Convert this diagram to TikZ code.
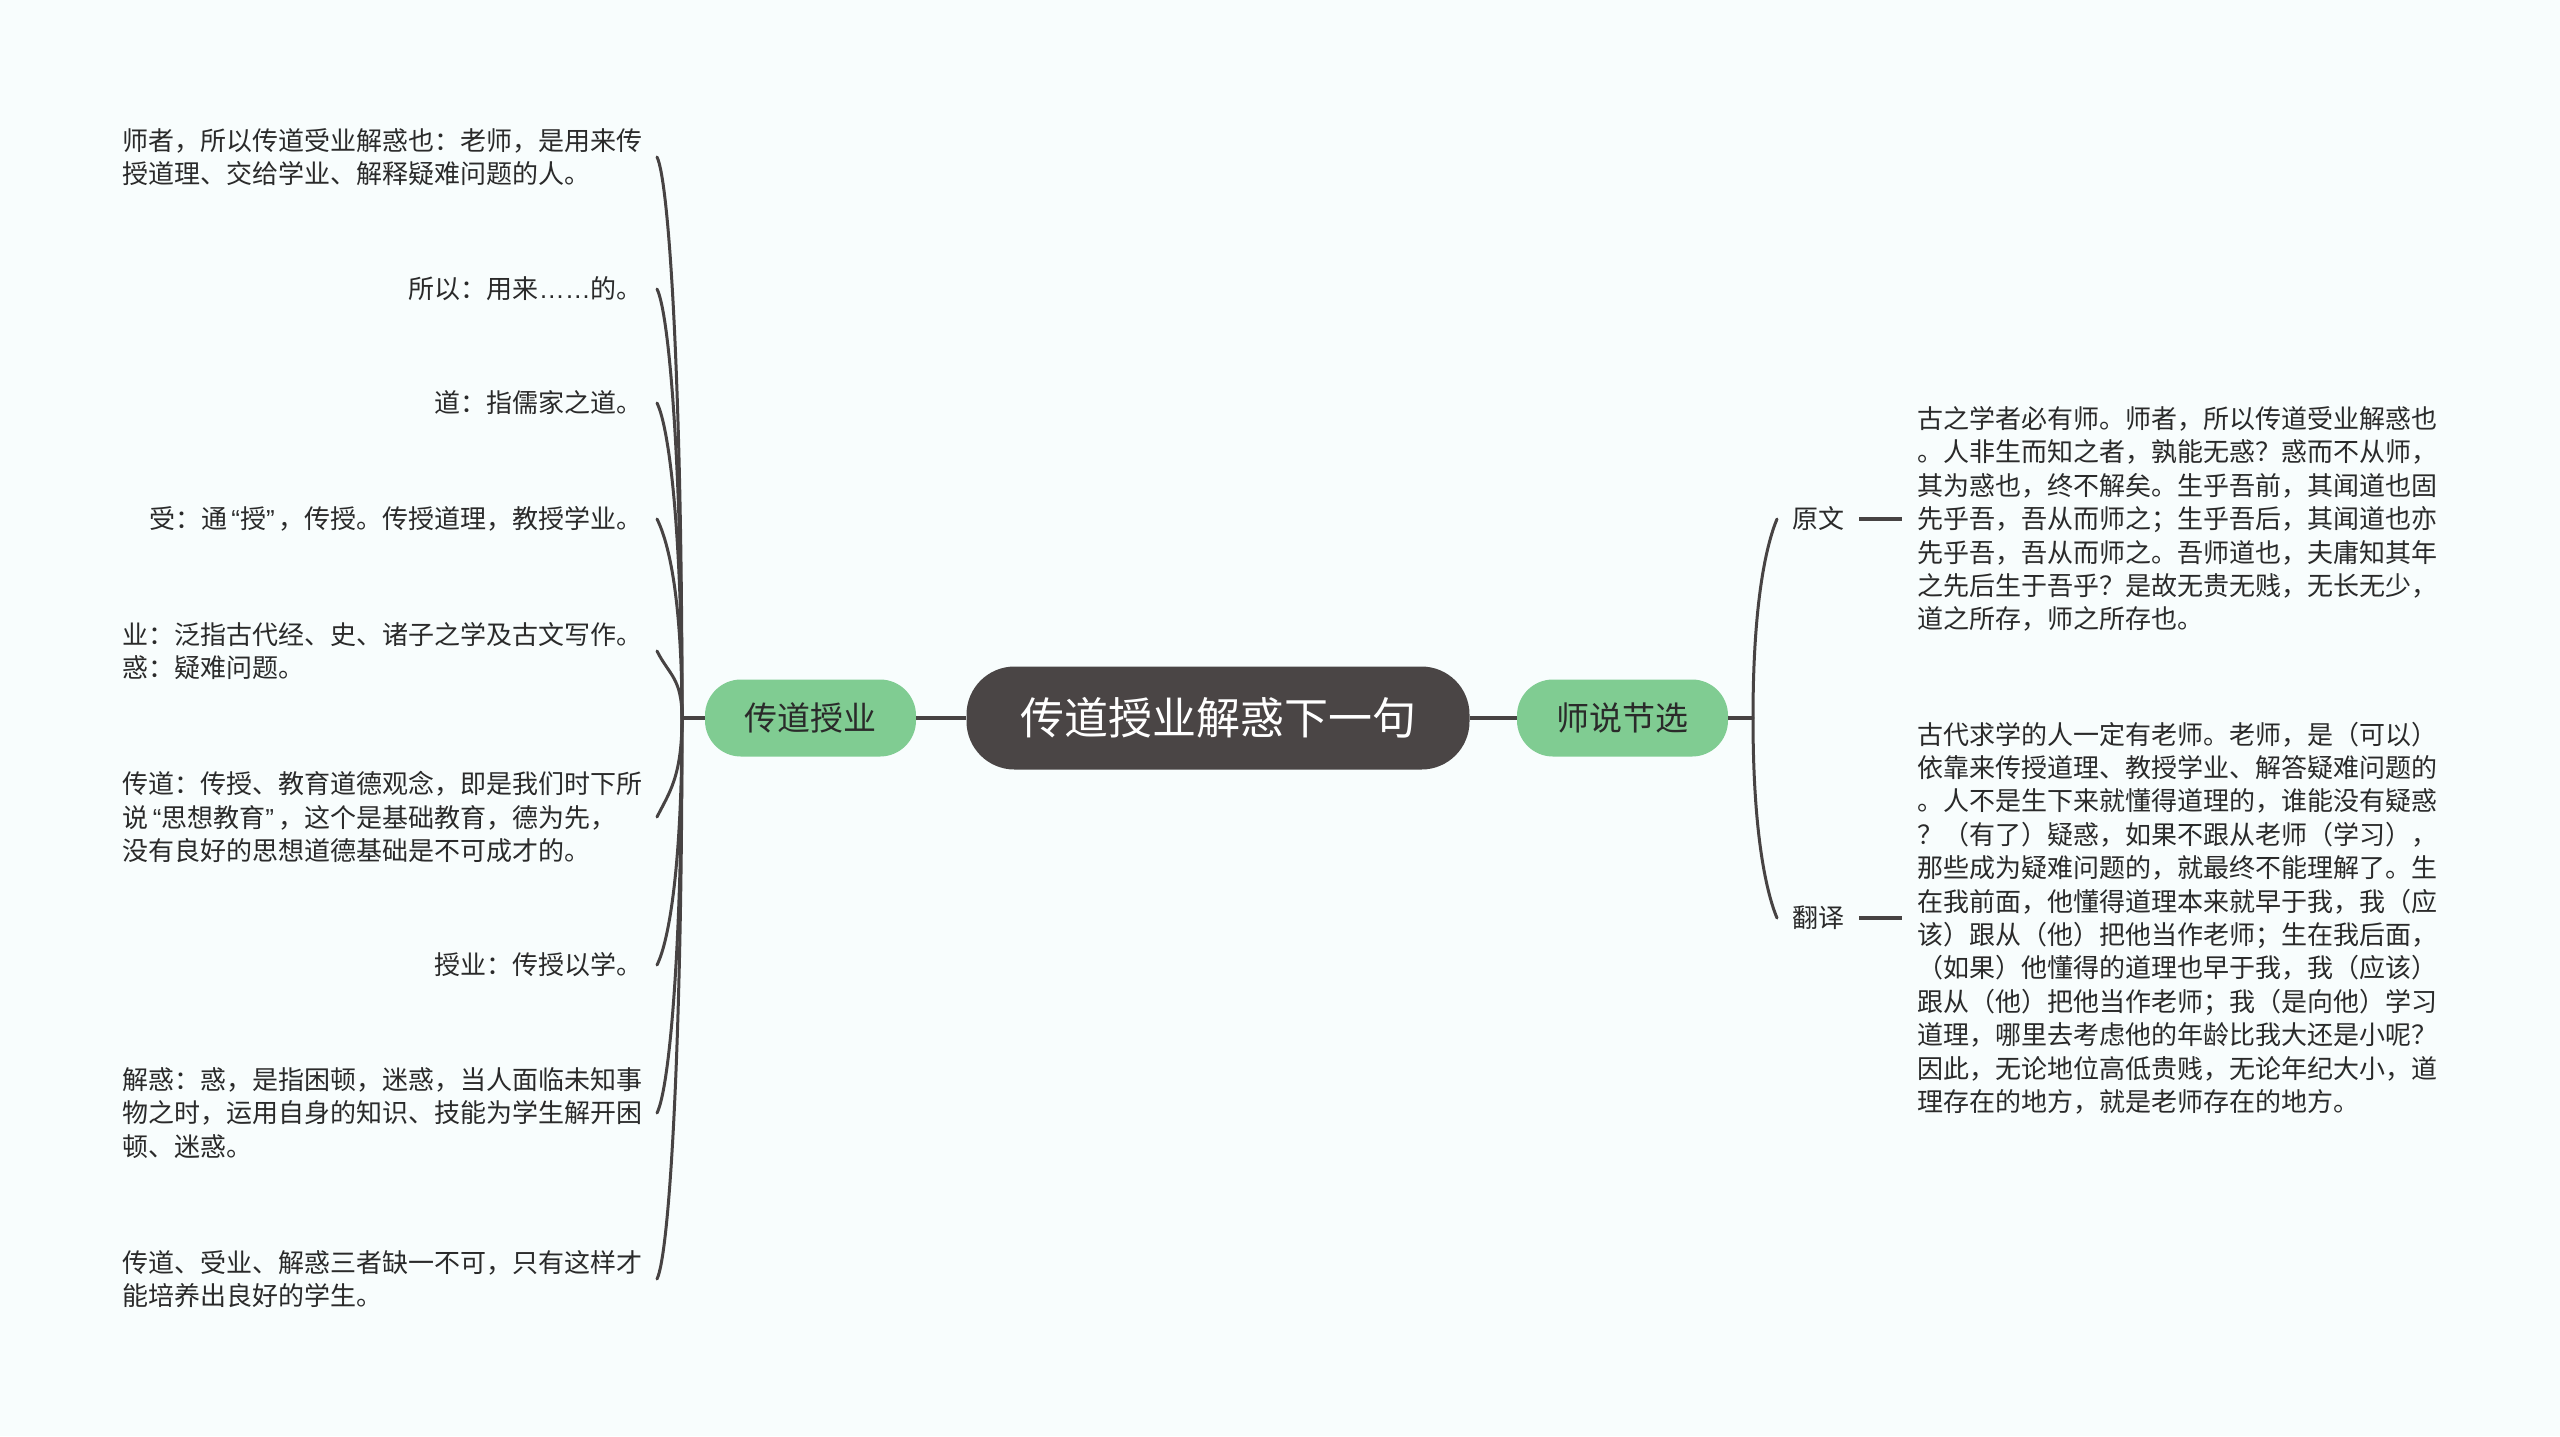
\documentclass[tikz,border=0pt]{standalone}
\usepackage{fontspec}
\newfontfamily\cjk{Noto Sans CJK SC}
\newfontfamily\lat{Liberation Sans}
\newcommand\myLq{{\kern4pt\lat “}}
\newcommand\myRq{{\lat ”\kern4pt}}
\definecolor{bg}{HTML}{F8FDFD}
\definecolor{dark}{HTML}{4A4545}
\definecolor{grn}{HTML}{80CC92}
\definecolor{ln}{HTML}{474343}
\definecolor{txt}{HTML}{2A2A2A}
\begin{document}
\begin{tikzpicture}[x=1pt,y=-1pt,
 conn/.style={draw=ln, line width=3.5pt},
 curve/.style={draw=ln, line width=3pt, line cap=round},
 rootnode/.style={fill=dark, text=white, rounded corners=48pt, minimum width=503pt, minimum height=103pt, inner sep=0pt, font=\cjk\fontsize{44pt}{50pt}\selectfont},
 subnode/.style={fill=grn, text=txt, rounded corners=36pt, minimum width=211pt, minimum height=77pt, inner sep=0pt, font=\cjk\fontsize{33pt}{38pt}\selectfont},
 leaf/.style={anchor=east, inner xsep=14pt, inner ysep=0pt, text=txt, font=\cjk\fontsize{26pt}{33.4pt}\selectfont},
 leafw/.style={leaf, text width=520pt, align=left},
 lab/.style={anchor=west, inner xsep=15pt, inner ysep=0pt, text=txt, font=\cjk\fontsize{26pt}{33.4pt}\selectfont},
 blk/.style={anchor=west, inner xsep=15pt, inner ysep=0pt, text=txt, text width=520pt, align=left, font=\cjk\fontsize{26pt}{33.4pt}\selectfont}
]
\useasboundingbox (0,0) rectangle (2560,1436);
\fill[bg] (0,0) rectangle (2560,1436);

% central and main branches
\node[rootnode] (root) at (1218,718) {传道授业解惑下一句};
\node[subnode] (lnode) at (810.5,718) {传道授业};
\node[subnode] (rnode) at (1622.5,718) {师说节选};
\coordinate (lt) at (682,718);
\coordinate (rt) at (1753,718);

% left leaves
\node[leafw] (l1) at (657,157) {师者，所以传道受业解惑也：老师，是用来传\\授道理、交给学业、解释疑难问题的人。};
\node[leaf] (l2) at (657,289) {所以：用来{\lat ……}的。};
\node[leaf] (l3) at (657,403) {道：指儒家之道。};
\node[leaf] (l4) at (657,519) {受：通\myLq 授\myRq ，传授。传授道理，教授学业。};
\node[leafw] (l5) at (657,651) {业：泛指古代经、史、诸子之学及古文写作。\\惑：疑难问题。};
\node[leafw] (l6) at (657,817) {传道：传授、教育道德观念，即是我们时下所\\说\myLq 思想教育\myRq ，这个是基础教育，德为先，\\没有良好的思想道德基础是不可成才的。};
\node[leaf] (l7) at (657,965) {授业：传授以学。};
\node[leafw] (l8) at (657,1113) {解惑：惑，是指困顿，迷惑，当人面临未知事\\物之时，运用自身的知识、技能为学生解开困\\顿、迷惑。};
\node[leafw] (l9) at (657,1279) {传道、受业、解惑三者缺一不可，只有这样才\\能培养出良好的学生。};

% right side
\node[lab] (yw) at (1777,519) {原文};
\node[lab] (fy) at (1777,918) {翻译};
\node[blk] (t1) at (1902,519) {古之学者必有师。师者，所以传道受业解惑也\\。人非生而知之者，孰能无惑？惑而不从师，\\其为惑也，终不解矣。生乎吾前，其闻道也固\\先乎吾，吾从而师之；生乎吾后，其闻道也亦\\先乎吾，吾从而师之。吾师道也，夫庸知其年\\之先后生于吾乎？是故无贵无贱，无长无少，\\道之所存，师之所存也。};
\node[blk] (t2) at (1902,918) {古代求学的人一定有老师。老师，是（可以）\\依靠来传授道理、教授学业、解答疑难问题的\\。人不是生下来就懂得道理的，谁能没有疑惑\\？（有了）疑惑，如果不跟从老师（学习），\\那些成为疑难问题的，就最终不能理解了。生\\在我前面，他懂得道理本来就早于我，我（应\\该）跟从（他）把他当作老师；生在我后面，\\（如果）他懂得的道理也早于我，我（应该）\\跟从（他）把他当作老师；我（是向他）学习\\道理，哪里去考虑他的年龄比我大还是小呢？\\因此，无论地位高低贵贱，无论年纪大小，道\\理存在的地方，就是老师存在的地方。};

% straight connectors
\draw[conn] (root.west) -- (lnode.east);
\draw[conn] (lnode.west) -- (lt);
\draw[conn] (root.east) -- (rnode.west);
\draw[conn] (rnode.east) -- (rt);
\draw[conn] (yw.east) -- (t1.west);
\draw[conn] (fy.east) -- (t2.west);

% left curves
\draw[curve] (lt) .. controls +(0,-337) and +(12,24) .. (l1.east);
\draw[curve] (lt) .. controls +(0,-257) and +(12,24) .. (l2.east);
\draw[curve] (lt) .. controls +(0,-189) and +(12,24) .. (l3.east);
\draw[curve] (lt) .. controls +(0,-119) and +(12,24) .. (l4.east);
\draw[curve] (lt) .. controls +(0,-40) and +(12,24) .. (l5.east);
\draw[curve] (lt) .. controls +(0,59) and +(12,-24) .. (l6.east);
\draw[curve] (lt) .. controls +(0,148) and +(12,-24) .. (l7.east);
\draw[curve] (lt) .. controls +(0,237) and +(12,-24) .. (l8.east);
\draw[curve] (lt) .. controls +(0,337) and +(12,-24) .. (l9.east);

% right curves
\draw[curve] (rt) .. controls +(0,-119) and +(-10,24) .. (yw.west);
\draw[curve] (rt) .. controls +(0,119) and +(-10,-24) .. (fy.west);
\end{tikzpicture}
\end{document}
